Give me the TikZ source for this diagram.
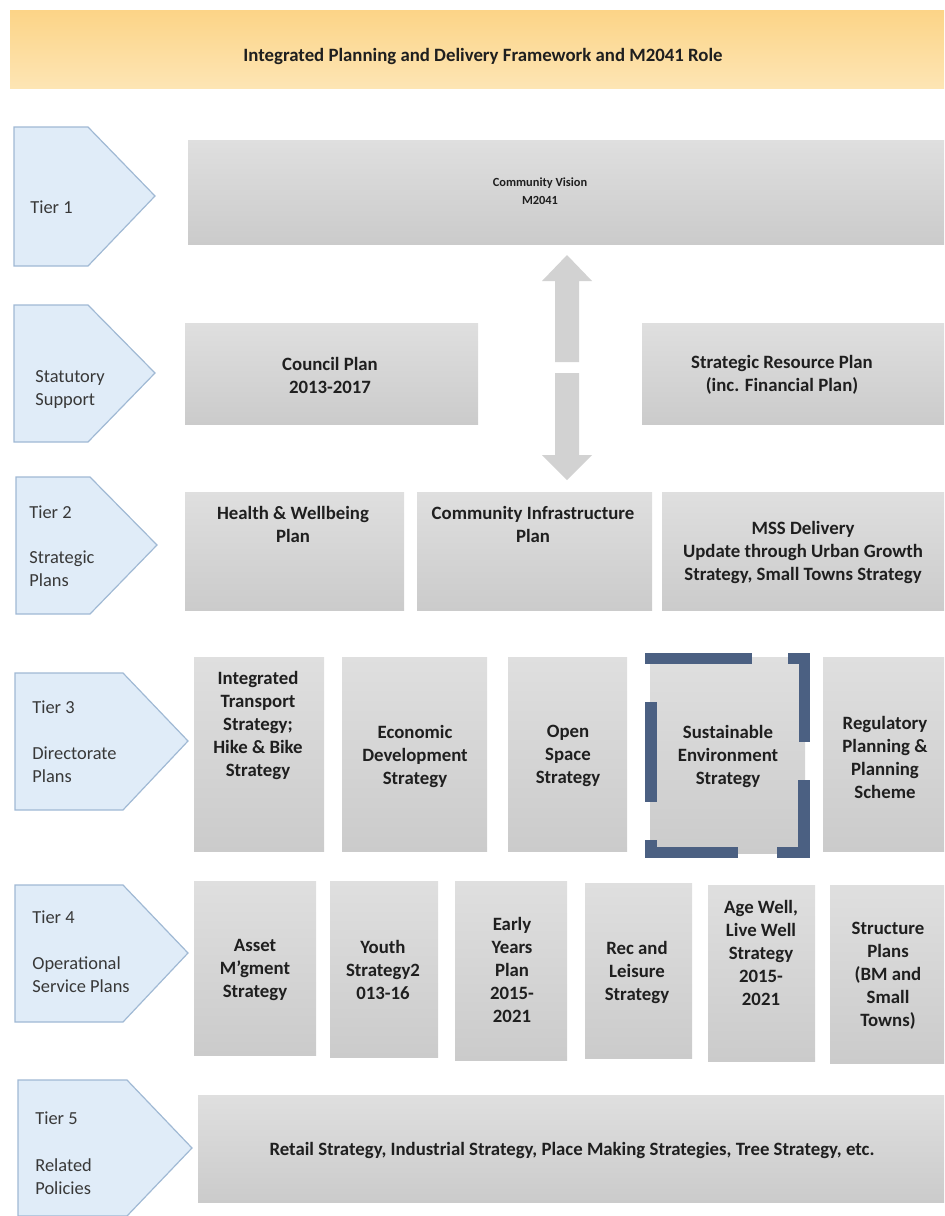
\documentclass[tikz,border=0pt]{standalone}
\usepackage{fontspec}
\setmainfont{Carlito}
\usepackage{xcolor}
\definecolor{BannerTop}{RGB}{252,212,135}
\definecolor{BannerBot}{RGB}{253,229,180}
\definecolor{BoxTop}{RGB}{223,223,223}
\definecolor{BoxBot}{RGB}{203,203,203}
\definecolor{TierFill}{RGB}{224,236,248}
\definecolor{TierLine}{RGB}{160,185,212}
\definecolor{BracketBlue}{RGB}{75,96,130}
\definecolor{ArrowGrey}{RGB}{210,210,210}

\begin{document}
\begin{tikzpicture}[x=0.5pt, y=-0.5pt,
        plan/.style={top color=BoxTop, bottom color=BoxBot},
        tier/.style={fill=TierFill, draw=TierLine, line width=0.6pt},
        plantext/.style={align=center, inner sep=0pt, text=black!88,
            font=\fontsize{9.4}{11.5}\selectfont\bfseries},
        tiertext/.style={anchor=west, align=left, inner sep=0pt, text=black!78,
            font=\fontsize{9.2}{11.5}\selectfont},
        bracket/.style={fill=BracketBlue}]

        \useasboundingbox (0,0) rectangle (944,1216);
        \clip (0,0) rectangle (944,1216);

        % Banner --  --  --  --  --  --  --  --  --  --  --  --  --  --  --
        \shade[top color=BannerTop, bottom color=BannerBot] (10,10) rectangle (950,88);
        \node[plantext] (title) at (483,56)
            {Integrated Planning and Delivery Framework and M2041 Role};
        %  --  --  --  --  --  --  --  --  --  --  --  --  --  --  --  --

        % Tier labels --  --  --  --  --  --  --  --  --  --  --  --  --  -
        \draw[tier] (14,127) -- (88,127) -- (155,196) -- (88,266) -- (14,266) -- cycle;
        \draw[tier] (14,305) -- (88,305) -- (155,373) -- (88,442) -- (14,442) -- cycle;
        \draw[tier] (16,477) -- (90,477) -- (157,545) -- (90,614) -- (16,614) -- cycle;
        \draw[tier] (15,673) -- (123,673) -- (188,741) -- (123,810) -- (15,810) -- cycle;
        \draw[tier] (15,885) -- (123,885) -- (188,953) -- (123,1022) -- (15,1022) -- cycle;
        \draw[tier] (18,1080) -- (127,1080) -- (192,1148) -- (127,1216) -- (18,1216) -- cycle;

        \node[tiertext] (tier1) at (30,207) {Tier 1};
        \node[tiertext] (statsup) at (35,390) {Statutory\\Support};
        \node[tiertext] (tier2) at (29,512) {Tier 2};
        \node[tiertext] (tier2sub) at (29,569) {Strategic\\Plans};
        \node[tiertext] (tier3) at (32,707) {Tier 3};
        \node[tiertext] (tier3sub) at (32,765) {Directorate\\Plans};
        \node[tiertext] (tier4) at (32,917) {Tier 4};
        \node[tiertext] (tier4sub) at (32,975) {Operational\\Service Plans};
        \node[tiertext] (tier5) at (35,1118) {Tier 5};
        \node[tiertext] (tier5sub) at (35,1177) {Related\\Policies};
        %  --  --  --  --  --  --  --  --  --  --  --  --  --  --  --  --

        % Tier 1 and statutory support --  --  --  --  --  --  --  --  --
        \shade[plan] (188,140) rectangle (950,244);
        \node[plantext, font=\fontsize{6.2}{9}\selectfont\bfseries] (vision) at (540,191)
            {Community Vision\\M2041};

        \shade[plan] (185,323) rectangle (478,424);
        \node[plantext] (council) at (330,375) {Council Plan\\2013-2017};

        \shade[plan] (642,323) rectangle (950,424);
        \node[plantext] (resource) at (782,375)
            {Strategic Resource Plan\\(inc. Financial Plan)};

        % Two-way arrow
        \coordinate (uptip) at (567,255);
        \coordinate (downtip) at (567,480);
        \fill[ArrowGrey] (555,362) -- (555,281) -- (542,281) -- (uptip)
            -- (592,281) -- (579,281) -- (579,362) -- cycle;
        \fill[ArrowGrey] (555,373) -- (555,455) -- (542,455) -- (downtip)
            -- (592,455) -- (579,455) -- (579,373) -- cycle;
        %  --  --  --  --  --  --  --  --  --  --  --  --  --  --  --  --

        % Tier 2 --  --  --  --  --  --  --  --  --  --  --  --  --  --  -
        \shade[plan] (185,492) rectangle (404,610);
        \shade[plan] (417,492) rectangle (652,610);
        \shade[plan] (662,492) rectangle (950,610);
        \node[plantext] (health) at (293,524) {Health \& Wellbeing\\Plan};
        \node[plantext] (infra) at (533,524) {Community Infrastructure\\Plan};
        \node[plantext] (mss) at (803,552)
            {MSS Delivery\\Update through Urban Growth\\Strategy, Small Towns Strategy};
        %  --  --  --  --  --  --  --  --  --  --  --  --  --  --  --  --

        % Tier 3 --  --  --  --  --  --  --  --  --  --  --  --  --  --  -
        \shade[plan] (194,657) rectangle (324,851);
        \shade[plan] (342,657) rectangle (487,851);
        \shade[plan] (508,657) rectangle (627,851);
        \shade[plan] (650,657) rectangle (805,853);
        \shade[plan] (823,657) rectangle (950,851);
        \node[plantext] (transport) at (258,725)
            {Integrated\\Transport\\Strategy;\\Hike \& Bike\\Strategy};
        \node[plantext] (economic) at (415,756) {Economic\\Development\\Strategy};
        \node[plantext] (openspace) at (568,756) {Open\\Space\\Strategy};
        \node[plantext] (sustain) at (728,756)
            {Sustainable\\Environment\\Strategy};
        \node[plantext] (regulatory) at (885,757)
            {Regulatory\\Planning \&\\Planning\\Scheme};

        % Highlight bracket round sustainable environment
        \fill[bracket] (645,653) rectangle (752,664);
        \fill[bracket] (788,653) rectangle (810,664);
        \fill[bracket] (799,653) rectangle (810,742);
        \fill[bracket] (645,702) rectangle (657,802);
        \fill[bracket] (645,840) rectangle (657,858);
        \fill[bracket] (645,847) rectangle (738,858);
        \fill[bracket] (798,780) rectangle (810,858);
        \fill[bracket] (777,847) rectangle (810,858);
        %  --  --  --  --  --  --  --  --  --  --  --  --  --  --  --  --

        % Tier 4 --  --  --  --  --  --  --  --  --  --  --  --  --  --  -
        \shade[plan] (194,881) rectangle (316,1055);
        \shade[plan] (330,881) rectangle (438,1057);
        \shade[plan] (455,881) rectangle (567,1060);
        \shade[plan] (585,883) rectangle (692,1058);
        \shade[plan] (708,885) rectangle (815,1061);
        \shade[plan] (830,885) rectangle (950,1063);
        \node[plantext] (asset) at (255,970) {Asset\\M'gment\\Strategy};
        \node[plantext] (youth) at (383,970) {Youth\\Strategy2\\013-16};
        \node[plantext] (early) at (512,970) {Early\\Years\\Plan\\2015-\\2021};
        \node[plantext] (recreation) at (637,972) {Rec and\\Leisure\\Strategy};
        \node[plantext] (agewell) at (761,953)
            {Age Well,\\Live Well\\Strategy\\2015-\\2021};
        \node[plantext] (structure) at (888,976)
            {Structure\\Plans\\(BM and\\Small\\Towns)};
        %  --  --  --  --  --  --  --  --  --  --  --  --  --  --  --  --

        % Tier 5 --  --  --  --  --  --  --  --  --  --  --  --  --  --  -
        \shade[plan] (198,1095) rectangle (950,1202);
        \node[plantext] (policies) at (572,1150)
            {Retail Strategy, Industrial Strategy, Place Making Strategies, Tree Strategy, etc.};
        %  --  --  --  --  --  --  --  --  --  --  --  --  --  --  --  --
    \end{tikzpicture}
\end{document}
